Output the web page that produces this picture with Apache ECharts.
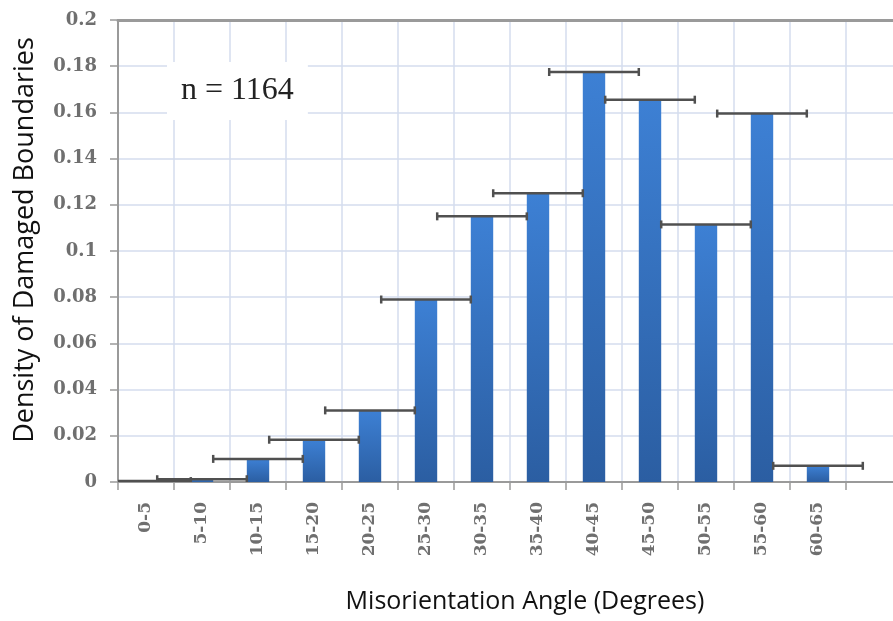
<!DOCTYPE html>
<html>
<head>
<meta charset="utf-8">
<script src="https://cdn.jsdelivr.net/npm/echarts@6/dist/echarts.min.js"></script>
<style>html,body{margin:0;padding:0;background:#fff;overflow:hidden;}#c{width:906px;height:621px;}</style>
</head>
<body>
<div id="c"></div>
<script>
const categories = ['0-5','5-10','10-15','15-20','20-25','25-30','30-35','35-40','40-45','45-50','50-55','55-60','60-65',''];
const density = [0.0004, 0.0012, 0.0100, 0.0183, 0.0310, 0.0790, 0.1150, 0.1250, 0.1775, 0.1655, 0.1115, 0.1595, 0.0070, null];
const errorLevels = [0.0004, 0.0012, 0.0100, 0.0183, 0.0310, 0.0790, 0.1150, 0.1250, 0.1775, 0.1655, 0.1115, 0.1595, 0.0070, null];
const yTicks = { min: 0, max: 0.2, interval: 0.02 };
const sampleLabel = 'n = 1164';

const errData = [];
errorLevels.forEach((v, i) => { if (v !== null) errData.push([i, v]); });

const chart = echarts.init(document.getElementById('c'), null, { renderer: 'canvas' });
const serif = '"DejaVu Serif", serif';
const tserif = '"Liberation Serif", "Times New Roman", serif';
const sans = '"Open Sans", Lato, sans-serif';
chart.setOption({
  backgroundColor: '#ffffff',
  animation: false,
  title: {
    text: sampleLabel,
    left: 167, top: 62,
    backgroundColor: '#ffffff',
    padding: [13, 14, 13, 14],
    textStyle: { fontFamily: tserif, fontSize: 32, fontWeight: 'normal', color: '#222' }
  },
  grid: { left: 118, top: 20, width: 784, height: 462, containLabel: false },
  xAxis: [{
    type: 'category',
    data: categories,
    position: 'bottom',
    name: 'Misorientation Angle (Degrees)',
    nameLocation: 'middle',
    nameGap: 107,
    nameTextStyle: { fontFamily: sans, fontSize: 25, color: '#111', padding: [0, 0, 0, 30] },
    axisLine: { show: true, lineStyle: { color: '#9a9a9a', width: 2 } },
    axisTick: { show: true, length: 8, lineStyle: { color: '#9a9a9a', width: 1.5 } },
    axisLabel: { rotate: 90, margin: 20, fontFamily: serif, fontSize: 17, color: '#6f6f6f', fontWeight: 'bold', interval: 0 },
    splitLine: { show: true, lineStyle: { color: '#d4ddee', width: 1.5 } }
  }, {
    type: 'category',
    data: categories,
    position: 'top',
    axisLine: { show: true, lineStyle: { color: '#9a9a9a', width: 3 } },
    axisTick: { show: false },
    axisLabel: { show: false },
    splitLine: { show: false }
  }],
  yAxis: {
    type: 'value',
    min: yTicks.min, max: yTicks.max, interval: yTicks.interval,
    name: 'Density of Damaged Boundaries',
    nameLocation: 'middle',
    nameGap: 79,
    nameTextStyle: { fontFamily: sans, fontSize: 27, color: '#111', padding: [0, 0, 0, 22] },
    axisLine: { show: true, lineStyle: { color: '#9a9a9a', width: 2 } },
    axisTick: { show: true, length: 8, lineStyle: { color: '#9a9a9a', width: 1.5 } },
    axisLabel: { margin: 21, fontFamily: serif, fontSize: 18, color: '#6f6f6f', fontWeight: 'bold' },
    splitLine: { show: true, lineStyle: { color: '#d4ddee', width: 1.5 } }
  },
  series: [{
    type: 'bar',
    data: density,
    barWidth: '40%',
    itemStyle: {
      color: new echarts.graphic.LinearGradient(0, 0, 0, 1, [
        { offset: 0, color: '#3d80d4' },
        { offset: 1, color: '#2b5ea2' }
      ])
    },
    z: 2
  }, {
    type: 'custom',
    data: errData,
    clip: true,
    z: 5,
    renderItem: function (params, api) {
      const p = api.coord([api.value(0), api.value(1)]);
      const bw = api.size([1, 0])[0];
      const half = bw * 0.8;
      const cap = 4;
      const st = { stroke: '#505050', lineWidth: 2.5 };
      return {
        type: 'group',
        children: [
          { type: 'line', shape: { x1: p[0] - half, y1: p[1], x2: p[0] + half, y2: p[1] }, style: st },
          { type: 'line', shape: { x1: p[0] - half, y1: p[1] - cap, x2: p[0] - half, y2: p[1] + cap }, style: st },
          { type: 'line', shape: { x1: p[0] + half, y1: p[1] - cap, x2: p[0] + half, y2: p[1] + cap }, style: st }
        ]
      };
    }
  }]
});
</script>
</body>
</html>
